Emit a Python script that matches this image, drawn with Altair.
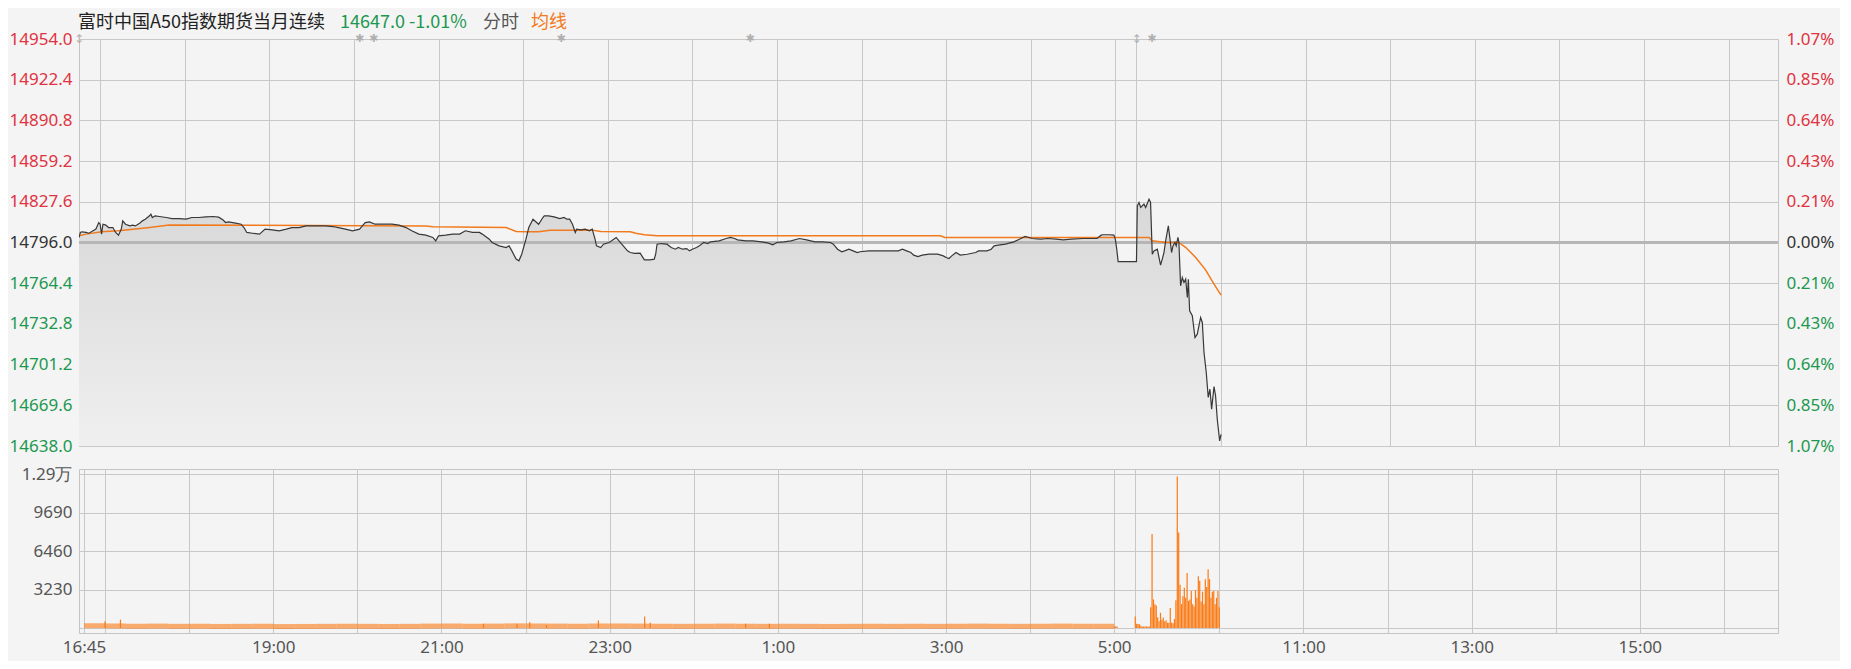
import altair as alt
import pandas as pd

# ------------------------------------------------------------------ data
PREV_CLOSE = 14796.0
TITLE_NAME = "富时中国A50指数期货当月连续"
TITLE_QUOTE = "14647.0 -1.01%"
TITLE_MODE = "分时"
TITLE_AVG = "均线"

# x = trading-session minute counted from 16:45 (night session to 05:15 = 750,
# day session resumes 09:00 = 750 and ends 16:35 = 1205)
SESSION_END = 1205

price_min = [0, 1, 2, 5, 7, 10, 12, 14, 15, 16, 17, 19, 21, 24, 26, 28, 30, 31, 33, 36,
             38, 40, 43, 45, 47, 50, 51, 52, 54, 57, 62, 66, 71, 76, 80, 85, 90, 95, 99, 102,
             104, 106, 111, 115, 117, 119, 123, 128, 132, 137, 142, 147, 151, 156, 161, 166, 170, 175, 180, 184,
             189, 194, 199, 201, 203, 206, 210, 218, 222, 227, 232, 236, 241, 246, 251, 253, 255, 260, 265, 270,
             274, 279, 284, 286, 291, 293, 298, 303, 305, 307, 310, 312, 314, 317, 319, 322, 326, 329, 330, 333,
             337, 341, 344, 346, 348, 350, 352, 353, 356, 359, 362, 364, 366, 367, 370, 372, 376, 381, 383, 386,
             389, 391, 394, 398, 401, 405, 408, 409, 410, 413, 417, 420, 423, 425, 428, 431, 433, 435, 438, 440,
             443, 446, 448, 454, 459, 462, 465, 467, 473, 478, 484, 489, 492, 495, 500, 505, 511, 516, 522, 527,
             533, 535, 538, 541, 543, 546, 549, 552, 554, 560, 565, 571, 576, 581, 584, 587, 590, 592, 595, 598,
             603, 609, 613, 615, 617, 619, 622, 625, 630, 636, 638, 644, 647, 649, 652, 657, 663, 668, 671, 676,
             682, 687, 693, 698, 704, 712, 717, 722, 725, 726, 731, 734, 735, 736, 737, 750,
             750.6, 751.8, 753.0, 755.3, 756.5, 758.9, 760.0, 761.2, 762.4, 764.8, 767.1, 768.3, 769.5, 770.7,
             772.6, 773.5, 774.9, 775.9, 777.3, 778.2, 779.4, 780.1, 781.3, 782.5, 783.7, 784.9, 786.1, 786.8,
             787.7, 789.6, 791.5, 793.1, 795.5, 796.7, 797.9, 799.5, 800.9, 802.1, 803.3, 805.0, 806.1, 807.3,
             809.0, 810.0]
price_val = [14799.9, 14803.8, 14804.3, 14803.8, 14803.2, 14805.1, 14806.4, 14811.5, 14810.2, 14802.5,
             14810.2, 14809.5, 14807.6, 14807.6, 14803.8, 14801.7, 14806.4, 14812.8, 14810.2, 14808.9,
             14809.5, 14808.9, 14811.0, 14812.8, 14814.1, 14816.7, 14818.0, 14815.4, 14816.7, 14816.2,
             14815.4, 14814.6, 14814.6, 14814.1, 14815.4, 14815.4, 14815.9, 14816.2, 14815.7, 14813.6,
             14811.5, 14812.0, 14811.0, 14810.2, 14807.6, 14803.8, 14803.2, 14802.5, 14806.4, 14805.8,
             14805.1, 14806.4, 14807.6, 14807.6, 14808.9, 14808.9, 14808.9, 14808.9, 14808.4, 14807.6,
             14806.4, 14805.1, 14806.4, 14808.9, 14811.5, 14812.0, 14810.2, 14810.2, 14810.2, 14809.5,
             14807.6, 14805.1, 14802.5, 14801.7, 14799.9, 14797.3, 14801.2, 14801.7, 14802.5, 14802.5,
             14805.1, 14803.8, 14803.8, 14802.5, 14798.6, 14796.0, 14793.4, 14792.1, 14793.4, 14789.5,
             14783.1, 14781.8, 14786.9, 14798.6, 14807.6, 14814.1, 14810.2, 14815.4, 14816.7, 14816.7,
             14815.9, 14814.6, 14815.4, 14814.1, 14814.1, 14810.2, 14803.8, 14806.4, 14805.8, 14806.4,
             14805.1, 14806.4, 14798.6, 14793.4, 14792.1, 14794.7, 14796.0, 14799.9, 14797.3, 14793.4,
             14789.5, 14788.2, 14787.5, 14787.7, 14782.5, 14782.5, 14783.1, 14786.9, 14794.7, 14795.2,
             14794.7, 14792.1, 14790.8, 14792.1, 14790.8, 14791.3, 14789.5, 14790.8, 14792.1, 14793.4,
             14796.0, 14795.2, 14796.5, 14797.3, 14799.1, 14799.9, 14799.1, 14798.1, 14797.3, 14797.3,
             14796.5, 14795.5, 14794.2, 14796.0, 14796.5, 14797.3, 14799.1, 14798.1, 14796.5, 14796.5,
             14796.0, 14794.7, 14790.8, 14788.8, 14789.5, 14790.8, 14789.5, 14788.2, 14788.8, 14789.5,
             14789.5, 14789.5, 14789.5, 14789.5, 14790.8, 14789.5, 14788.2, 14786.2, 14785.1, 14786.2,
             14786.9, 14786.9, 14785.6, 14784.4, 14783.6, 14785.6, 14788.2, 14786.2, 14786.9, 14788.2,
             14789.5, 14789.5, 14790.8, 14793.4, 14793.9, 14794.7, 14796.5, 14799.1, 14800.7, 14799.1,
             14798.6, 14799.1, 14798.6, 14798.1, 14798.6, 14799.1, 14799.1, 14799.1, 14801.7, 14802.0,
             14802.0, 14801.7, 14798.6, 14790.8, 14781.2, 14781.2,
             14824.5, 14827.1, 14823.2, 14825.8, 14823.2, 14829.6, 14827.1, 14786.9, 14789.5, 14790.8,
             14778.4, 14783.1, 14788.2, 14797.3, 14808.9, 14801.2, 14788.2, 14793.4, 14796.0, 14793.4,
             14799.9, 14796.0, 14762.4, 14768.8, 14764.9, 14767.5, 14753.3, 14767.5, 14742.9, 14739.1,
             14722.2, 14724.8, 14737.8, 14733.9, 14710.6, 14695.1, 14675.7, 14682.1, 14666.6, 14684.2,
             14677.0, 14658.8, 14642.0, 14647.0]

avg_min = [0, 5, 16, 28, 40, 50, 64, 246, 251, 303, 310, 317, 326, 334, 364, 370, 391, 395, 401, 410,
           611, 614, 759, 761, 771, 780, 785, 792, 799, 805, 810]
avg_val = [14801.2, 14802.5, 14804.3, 14805.1, 14806.4, 14807.6, 14809.5, 14808.9, 14808.2, 14807.6,
           14804.5, 14804.3, 14804.3, 14805.6, 14805.6, 14804.5, 14804.3, 14803.2, 14802.0, 14801.2,
           14801.2, 14799.9, 14799.9, 14797.3, 14796.0, 14796.0, 14792.1, 14784.4, 14774.8, 14763.7,
           14755.1]

# night-session volume, one value per 15-minute block from 16:45
night_vol_15m = [190, 170, 150, 160, 140, 150, 130, 140, 150, 120, 130, 140, 150, 140, 130, 140, 160,
                 170, 150, 160, 180, 170, 160, 150, 160, 170, 160, 150, 140, 150, 160, 150, 140, 150,
                 140, 130, 140, 150, 140, 150, 140, 150, 160, 150, 140, 150, 160, 150, 140]
spike_min = [15, 26, 285, 309, 318, 330, 367, 400, 404, 472, 489]
spike_vol = [570, 700, 360, 360, 490, 250, 630, 965, 440, 360, 360]
day_min = [735, 736, 737] + list(range(750, 811))
day_vol = [130, 130, 120,
           965, 363, 330, 310, 180, 128, 128, 128, 128, 128, 128, 1750, 7880, 2400, 2000, 1880,
           900, 570, 1280, 700, 885, 570, 650, 440, 440, 1670, 440, 390, 750, 2320, 12700, 8010,
           3630, 2000, 2660, 3370, 2530, 4620, 2270, 2400, 3100, 2000, 1800, 3180, 2530, 4350,
           3960, 2220, 3050, 2000, 4100, 3450, 4930, 4100, 2530, 3050, 3100, 2000, 2530, 3100, 1750]

price_ticks = [14638.0, 14669.6, 14701.2, 14732.8, 14764.4, 14796.0, 14827.6, 14859.2, 14890.8,
               14922.4, 14954.0]
vol_ticks = [0, 3230, 6460, 9690, 12920]
grid_min = [15, 75, 135, 195, 255, 315, 375, 435, 495, 555, 615, 675, 735, 750, 810, 870, 930,
            990, 1050, 1110, 1170]
label_min = [0, 135, 255, 375, 495, 615, 735, 870, 990, 1110]
label_txt = ["16:45", "19:00", "21:00", "23:00", "1:00", "3:00", "5:00", "11:00", "13:00", "15:00"]
event_min = [199, 209, 342, 476, 761]
session_min = [0, 750]

# ------------------------------------------------------------------ style
RED = "#e0323f"
GREEN = "#1d9850"
ORANGE = "#f27a1c"
BAR = "#fb7a14"
LINE = "#383838"
GRID = "#c8c8c8"
BG = "#f4f4f4"
GRAY_TXT = "#555555"
FONT = "Noto Sans"
W = 1699
H_PRICE = 407
H_VOL = 164

price_df = pd.DataFrame({"t": price_min, "p": price_val})
avg_df = pd.DataFrame({"t": avg_min, "p": avg_val})
night_df = pd.DataFrame({"t": [15 * i for i in range(len(night_vol_15m))], "v": night_vol_15m})
night_df["t2"] = night_df["t"] + 15
spike_df = pd.DataFrame({"t": spike_min, "v": spike_vol})
day_df = pd.DataFrame({"t": day_min, "v": day_vol})
event_df = pd.DataFrame({"t": event_min, "p": [price_ticks[-1]] * len(event_min)})
sess_df = pd.DataFrame({"t": session_min, "p": [price_ticks[-1]] * len(session_min)})

xscale = alt.Scale(domain=[0, SESSION_END], nice=False, zero=False)
yscale = alt.Scale(domain=[price_ticks[0], price_ticks[-1]], nice=False, zero=False)
vscale = alt.Scale(domain=[0, vol_ticks[-1]], nice=False, zero=False)

color_expr = (f"datum.value > {PREV_CLOSE + 0.5} ? '{RED}' : "
              f"datum.value < {PREV_CLOSE - 0.5} ? '{GREEN}' : '#333333'")

x_price = alt.X("t:Q", scale=xscale, title=None,
                axis=alt.Axis(values=grid_min, grid=True, labels=False, ticks=False, domain=False))
y_left = alt.Y("p:Q", scale=yscale, title=None,
               axis=alt.Axis(values=price_ticks, grid=True, labelExpr="format(datum.value, '.1f')",
                             labelColor={"expr": color_expr}, labelPadding=7, labelFlush=False,
                             minExtent=69, maxExtent=69))
y_right = alt.Y("p:Q", scale=yscale, title=None,
                axis=alt.Axis(orient="right", values=price_ticks, grid=False, labelFlush=False,
                              labelExpr=f"format(abs(datum.value - {PREV_CLOSE}) / {PREV_CLOSE} * 100, '.2f') + '%'",
                              labelColor={"expr": color_expr}, labelPadding=8))
y_none = alt.Y("p:Q", scale=yscale, axis=None)

area = alt.Chart(price_df).mark_area(
    clip=True,
    color=alt.Gradient(gradient="linear", x1=0, y1=0, x2=0, y2=1,
                       stops=[alt.GradientStop(color="#d8d8d8", offset=0),
                              alt.GradientStop(color="#efefef", offset=1)]),
).encode(x=x_price, y=y_left, y2=alt.datum(price_ticks[0]))

zero_rule = alt.Chart(price_df).mark_rule(color="#b6b6b6", strokeWidth=2.5).encode(
    y=alt.YDatum(PREV_CLOSE, scale=yscale, axis=None))

avg_line = alt.Chart(avg_df).mark_line(color=ORANGE, strokeWidth=1.5, clip=True).encode(
    x=alt.X("t:Q", scale=xscale), y=y_none)
price_line = alt.Chart(price_df).mark_line(color=LINE, strokeWidth=1.2, clip=True).encode(
    x=alt.X("t:Q", scale=xscale), y=y_none)
right_axis = alt.Chart(price_df).mark_line(opacity=0).encode(
    x=alt.X("t:Q", scale=xscale), y=y_right)

events = alt.Chart(event_df).mark_text(text="✱", font="DejaVu Sans", fontSize=11, color="#b0b0b0").encode(
    x=alt.X("t:Q", scale=xscale), y=y_none)
sessions = alt.Chart(sess_df).mark_text(text="↕", font="DejaVu Sans", fontSize=12, color="#b0b0b0").encode(
    x=alt.X("t:Q", scale=xscale), y=y_none)


def title_part(txt, xpos, color):
    return alt.Chart(pd.DataFrame({"s": [txt]})).mark_text(
        align="left", baseline="middle", font="Noto Sans CJK SC", fontSize=18, color=color
    ).encode(x=alt.value(xpos), y=alt.value(-16), text="s:N")


titles = (title_part(TITLE_NAME, -1, "#222222") + title_part(TITLE_QUOTE, 261, GREEN)
          + title_part(TITLE_MODE, 404, GRAY_TXT) + title_part(TITLE_AVG, 452, ORANGE))

price_chart = alt.layer(area, zero_rule, avg_line, price_line, right_axis, events, sessions, titles).resolve_axis(
    y="independent").properties(width=W, height=H_PRICE)

# ------------------------------------------------------------------ volume panel
x_vals = sorted(set(grid_min + label_min))
x_label_expr = "".join(f"datum.value == {m} ? '{s}' : " for m, s in zip(label_min, label_txt)) + "''"
x_vol = alt.X("t:Q", scale=xscale, title=None,
              axis=alt.Axis(values=x_vals, grid=True, labelExpr=x_label_expr, labelFlush=False,
                            labelOverlap=False, labelPadding=6, labelColor=GRAY_TXT))
y_vol = alt.Y("v:Q", scale=vscale, title=None,
              axis=alt.Axis(values=vol_ticks, grid=True, labelPadding=7, labelColor=GRAY_TXT,
                            labelFlush=False, minExtent=69, maxExtent=69,
                            labelExpr="datum.value == 0 ? '' : datum.value >= 10000 ? "
                                      "format(datum.value / 10000, '.2f') + '万' : format(datum.value, 'd')"))

night_bars = alt.Chart(night_df).mark_bar(color=BAR, opacity=0.6).encode(x=x_vol, x2="t2:Q", y=y_vol)
spike_bars = alt.Chart(spike_df).mark_bar(color=BAR, size=1.2).encode(
    x=alt.X("t:Q", scale=xscale), y=alt.Y("v:Q", scale=vscale))
day_bars = alt.Chart(day_df).mark_bar(color=BAR, size=1.2).encode(
    x=alt.X("t:Q", scale=xscale), y=alt.Y("v:Q", scale=vscale))

vol_chart = alt.layer(night_bars, spike_bars, day_bars).properties(width=W, height=H_VOL)

chart = alt.vconcat(price_chart, vol_chart, spacing=9).configure(
    background=BG, padding={"left": 0, "top": 5, "right": 5, "bottom": 5}
).configure_view(stroke="#c4c4c4", strokeWidth=1).configure_axis(
    labelFont=FONT, labelFontSize=17, gridColor=GRID, gridWidth=1, domain=False, ticks=False)

chart.save("out.html", embed_options={"renderer": "svg", "actions": False})
